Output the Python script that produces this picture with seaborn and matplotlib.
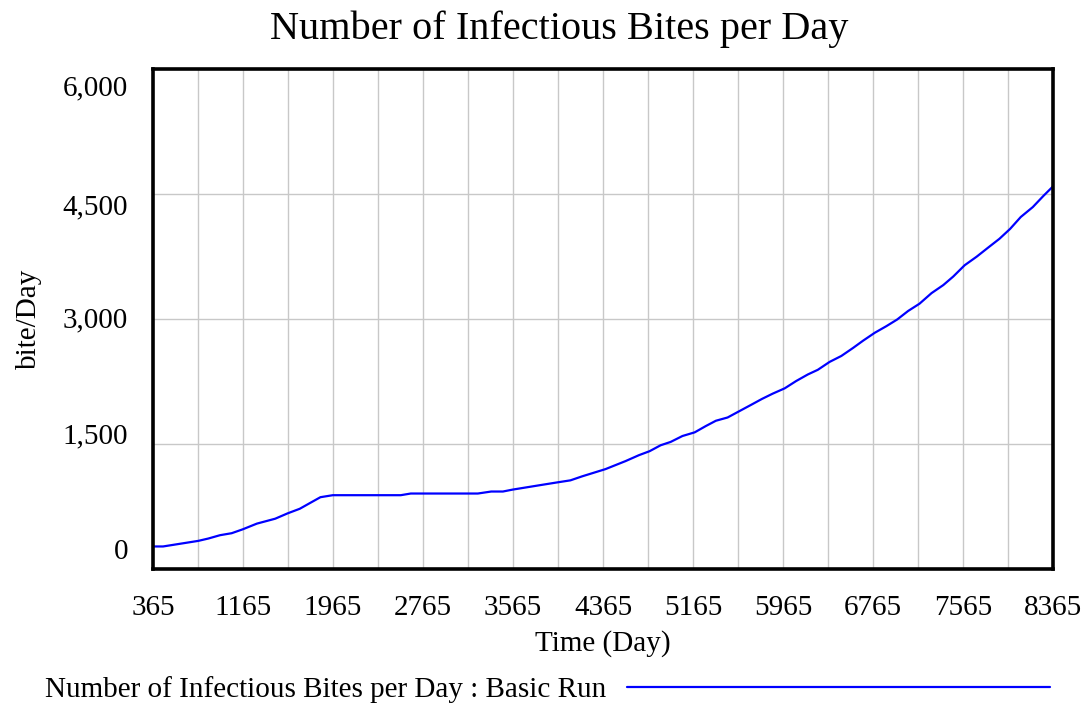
import seaborn as sns
import matplotlib.pyplot as plt
import matplotlib.transforms as mtransforms
import numpy as np
import pandas as pd

# values
days = [365, 454, 767, 856, 960, 1064, 1163, 1288, 1451, 1561, 1669, 1764, 1853, 1963,
        2567, 2656, 3252, 3371, 3475, 3561, 3817, 3965, 4075, 4179, 4387, 4565, 4684,
        4779, 4877, 4966, 5071, 5180, 5278, 5368, 5472, 5582, 5680, 5778, 5873, 5980,
        6081, 6185, 6274, 6379, 6483, 6587, 6676, 6780, 6884, 6979, 7077, 7178, 7285,
        7389, 7478, 7579, 7686, 7790, 7888, 7983, 8078, 8185, 8280, 8365]
bites = [270, 270, 337, 365, 405, 429, 476, 544, 603, 667, 722, 794, 861, 885,
         885, 905, 905, 929, 929, 952, 1008, 1040, 1063, 1111, 1198, 1294, 1365,
         1413, 1484, 1524, 1595, 1639, 1714, 1778, 1817, 1897, 1968, 2040, 2103, 2167,
         2254, 2333, 2389, 2484, 2555, 2651, 2738, 2833, 2913, 2992, 3095, 3182, 3309,
         3405, 3508, 3643, 3746, 3857, 3960, 4079, 4222, 4341, 4476, 4590]
x_ticks = [365, 1165, 1965, 2765, 3565, 4365, 5165, 5965, 6765, 7565, 8365]
y_ticks = [0, 1500, 3000, 4500, 6000]
y_tick_labels = ["0", "1,500", "3,000", "4,500", "6,000"]
series_name = "Number of Infectious Bites per Day : Basic Run"

df = pd.DataFrame({"Time": days, "Bites": bites})

sns.set_style("white")
plt.rcParams['font.family'] = ['Liberation Serif', 'DejaVu Serif']
plt.rcParams['text.color'] = 'black'
plt.rcParams['axes.labelcolor'] = 'black'
plt.rcParams['xtick.color'] = 'black'
plt.rcParams['ytick.color'] = 'black'

fig = plt.figure(figsize=(10.9, 7.09), dpi=100)
ax = fig.add_axes([0.1404, 0.1975, 0.8257, 0.7055])

sns.lineplot(data=df, x="Time", y="Bites", ax=ax, color="#0000ff", linewidth=1.6,
             label=series_name, legend=False)

ax.set_xlim(365, 8365)
ax.set_ylim(0, 6000)
ax.set_xticks(x_ticks)
ax.set_xticks(np.arange(365, 8366, 400), minor=True)
ax.set_yticks(y_ticks)
ax.set_yticklabels(y_tick_labels)
ax.grid(True, which="both", axis="x", color="#c8c8c8", linewidth=1.0)
ax.grid(True, axis="y", color="#c8c8c8", linewidth=1.0)
ax.tick_params(axis="both", which="both", labelsize=21, length=0)
ax.tick_params(axis="x", pad=19)
ax.tick_params(axis="y", pad=18)

for sp in ax.spines.values():
    sp.set_linewidth(2.6)
    sp.set_color("black")

# vensim style spreads the y labels: top one drops, bottom one rises
shift_px = {0: -20, 1500: -11, 3000: -1, 4500: 11, 6000: 17}
for val, lab in zip(y_ticks, ax.get_yticklabels()):
    off = mtransforms.ScaledTranslation(0, -shift_px[val] / 100.0, fig.dpi_scale_trans)
    lab.set_transform(lab.get_transform() + off)

ax.set_xlabel("Time (Day)", fontsize=21, labelpad=6)
ax.set_ylabel("bite/Day", fontsize=21, labelpad=15)
fig.suptitle("Number of Infectious Bites per Day", fontsize=29, x=0.513, y=0.985)

handles, labels = ax.get_legend_handles_labels()
fig.legend(handles, labels, loc="center left", bbox_to_anchor=(0.028, 0.027),
           markerfirst=False, handlelength=14.5, handletextpad=0.7, frameon=False,
           borderpad=0, fontsize=21)

fig.savefig("out.png", dpi=100)
